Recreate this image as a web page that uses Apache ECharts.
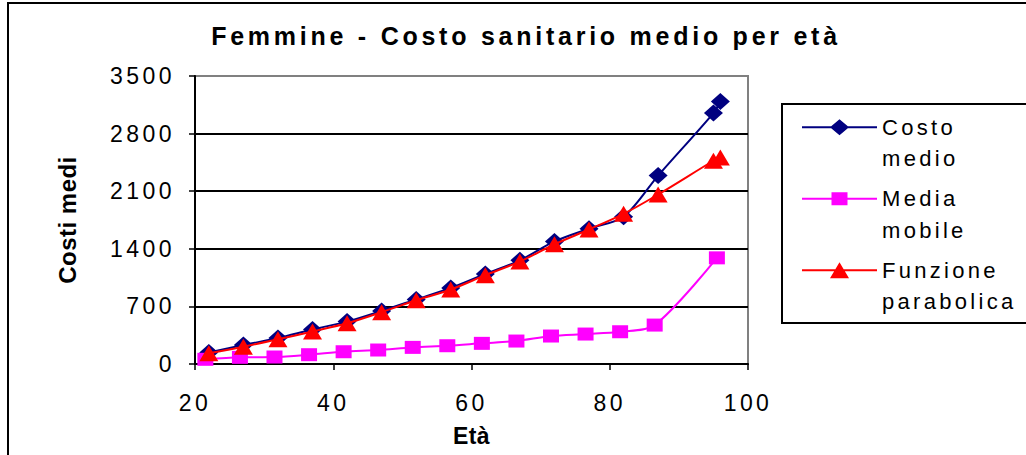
<!DOCTYPE html>
<html>
<head>
<meta charset="utf-8">
<script src="https://cdn.jsdelivr.net/npm/echarts@6/dist/echarts.min.js"></script>
<style>
  html, body { margin: 0; padding: 0; background: #fff; }
  #chart { width: 1026px; height: 455px; }
  /* wide Excel-like tracking for chart text; axis names keep normal spacing */
  #chart text { letter-spacing: 0.15em; }
  #chart text[style*="Arial"] { letter-spacing: 0.02em; }
</style>
</head>
<body>
<div id="chart"></div>
<script>
// Age classes (years) and average yearly health cost per age
const ages = [22, 27, 32, 37, 42, 47, 52, 57, 62, 67, 72, 77, 82, 87, 95, 96];
const costoMedio = [140, 230, 315, 420, 515, 645, 785, 925, 1095, 1260, 1490, 1645, 1790, 2290, 3050, 3190];
const funzioneParabolica = [130, 210, 300, 395, 495, 630, 775, 905, 1080, 1245, 1455, 1635, 1825, 2060, 2470, 2510];

// Moving average, centred between age classes
const etaMediaMobile = [21.5, 26.5, 31.5, 36.5, 41.5, 46.5, 51.5, 56.5, 61.5, 66.5, 71.5, 76.5, 81.5, 86.5, 95.5];
const mediaMobile = [57, 81, 85, 113, 149, 170, 202, 222, 251, 279, 340, 364, 392, 473, 1290];

const seriesNames = ['Costo medio', 'Media mobile', 'Funzione parabolica'];
const xTicks = [20, 40, 60, 80, 100];
const yTicks = [0, 700, 1400, 2100, 2800, 3500];

const titleText = 'Femmine - Costo sanitario medio per età';
const xName = 'Età';
const yName = 'Costi medi';

const pairs = (xs, ys) => xs.map((x, i) => [x, ys[i]]);

// legend keys: a line with the series marker in the middle (75 x 18 box)
const box = 'M0 0M75 18';
const lineBar = 'M0 8H75V10H0Z';
const iconDiamond = 'path://' + box + lineBar + 'M37.5 1L47 9L37.5 17L28 9Z';
const iconSquare = 'path://' + box + lineBar + 'M29.5 2.5H45.5V15.5H29.5Z';
const iconTriangle = 'path://' + box + lineBar + 'M37.5 1L47 17H28Z';

const font = '"Liberation Sans", sans-serif';
const chart = echarts.init(document.getElementById('chart'), null, { renderer: 'svg' });

chart.setOption({
  animation: false,
  backgroundColor: '#fff',
  graphic: [
    { type: 'rect', shape: { x: 8, y: 3, width: 1100, height: 500 },
      style: { fill: 'none', stroke: '#000', lineWidth: 2 }, z: -10 },
    { type: 'rect', shape: { x: 782, y: 104, width: 300, height: 219 },
      style: { fill: '#fff', stroke: '#000', lineWidth: 2 }, z: -5 },
    { type: 'text', x: 526, y: 35.5,
      style: { text: titleText, fontFamily: font, fontWeight: 'bold', fontSize: 25,
               fill: '#000', align: 'center', verticalAlign: 'middle' } }
  ],
  grid: {
    left: 195, right: 278, top: 76, bottom: 91,
    show: true, borderColor: '#808080', borderWidth: 2, backgroundColor: 'transparent'
  },
  legend: {
    orient: 'vertical',
    left: 802, top: 80,
    padding: 0,
    itemGap: -23,
    itemWidth: 75,
    itemHeight: 18,
    itemStyle: { borderWidth: 0 },
    // leading blank line keeps the key beside the first line of each name
    formatter: name => '\n' + name.replace(' ', '\n'),
    textStyle: { fontFamily: font, fontSize: 22, color: '#000', lineHeight: 31.5 },
    data: [
      { name: seriesNames[0], icon: iconDiamond },
      { name: seriesNames[1], icon: iconSquare },
      { name: seriesNames[2], icon: iconTriangle }
    ]
  },
  xAxis: {
    type: 'value', min: 20, max: 100, interval: 20,
    name: xName, nameLocation: 'middle', nameGap: 60,
    nameTextStyle: { fontFamily: 'Arial', fontWeight: 'bold', fontSize: 23, color: '#000' },
    axisLine: { show: true, lineStyle: { color: '#000', width: 2 } },
    axisTick: { show: true, length: 6, lineStyle: { color: '#000', width: 1.5 } },
    axisLabel: { margin: 27, fontFamily: font, fontSize: 23, color: '#000',
                 formatter: v => xTicks.includes(v) ? String(v) : '' },
    splitLine: { show: false }
  },
  yAxis: {
    type: 'value', min: 0, max: 3500, interval: 700,
    name: yName, nameLocation: 'middle', nameGap: 116,
    nameTextStyle: { fontFamily: 'Arial', fontWeight: 'bold', fontSize: 24, color: '#000' },
    axisLine: { show: true, lineStyle: { color: '#000', width: 2 } },
    axisTick: { show: true, length: 6, lineStyle: { color: '#000', width: 1.5 } },
    axisLabel: { margin: 20, fontFamily: font, fontSize: 23, color: '#000',
                 formatter: v => yTicks.includes(v) ? String(v) : '' },
    splitLine: { show: true, lineStyle: { color: ['#000', '#000', '#000', '#000', '#000', '#808080'], width: 2 } }
  },
  series: [
    {
      name: seriesNames[0], type: 'line', smooth: 0.3,
      data: pairs(ages, costoMedio),
      symbol: 'diamond', symbolSize: [19, 17],
      lineStyle: { color: '#000080', width: 2 },
      itemStyle: { color: '#000080', borderWidth: 0 },
      z: 2
    },
    {
      name: seriesNames[1], type: 'line', smooth: 0.3,
      data: pairs(etaMediaMobile, mediaMobile),
      symbol: 'rect', symbolSize: [16, 13],
      lineStyle: { color: '#FF00FF', width: 2 },
      itemStyle: { color: '#FF00FF', borderWidth: 0 },
      z: 3
    },
    {
      name: seriesNames[2], type: 'line', smooth: 0.3,
      data: pairs(ages, funzioneParabolica),
      symbol: 'triangle', symbolSize: [19, 16],
      lineStyle: { color: '#FF0000', width: 2 },
      itemStyle: { color: '#FF0000', borderWidth: 0 },
      z: 4
    }
  ]
});
</script>
</body>
</html>
